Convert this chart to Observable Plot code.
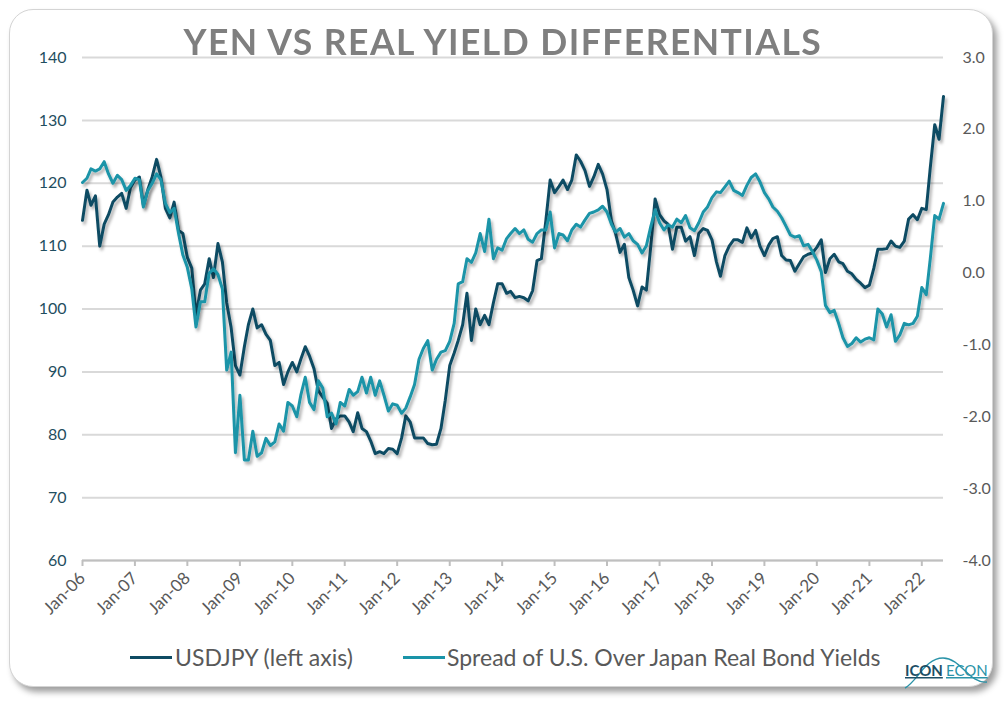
<!DOCTYPE html>
<html>
<head>
<meta charset="utf-8">
<script src="https://cdn.jsdelivr.net/npm/d3@7"></script>
<script src="https://cdn.jsdelivr.net/npm/@observablehq/plot@0.6"></script>
<style>
  html, body { margin: 0; padding: 0; background: #ffffff; }
  body { width: 1006px; height: 706px; position: relative; overflow: hidden; font-family: Lato, "Open Sans", sans-serif; }
  #card { position: absolute; left: 9px; top: 9px; width: 982px; height: 676px; border: 1px solid #d4d4d4; border-radius: 24px; box-shadow: 4px 5px 6px rgba(0,0,0,0.38); background: #fff; }
  #title { position: absolute; left: 0; top: 19px; width: 1006px; text-align: center; font-weight: 700; font-size: 37px; line-height: 44px; color: #7f7f7f; letter-spacing: 1.5px; white-space: nowrap; transform: scaleX(0.96); transform-origin: 500px 0; }
  #chart { position: absolute; left: 0; top: 0; }
  .lg-sw { position: absolute; height: 3px; width: 42px; top: 656px; }
  .lg-tx { position: absolute; top: 643px; font-size: 23px; line-height: 28px; color: #595959; white-space: nowrap; }
  #logo { position: absolute; left: 903px; top: 652px; width: 86px; height: 40px; }
</style>
</head>
<body>
<div id="card"></div>
<div id="chart"></div>
<div id="title">YEN VS REAL YIELD DIFFERENTIALS</div>
<div class="lg-sw" style="left:130px;background:#0e4b63"></div>
<div class="lg-tx" style="left:175px">USDJPY (left axis)</div>
<div class="lg-sw" style="left:403px;background:#1a94a8"></div>
<div class="lg-tx" style="left:447px">Spread of U.S. Over Japan Real Bond Yields</div>
<svg id="logo" viewBox="0 0 86 40">
  <path d="M2,36 C14,30 22,6 40,6 C58,6 66,32 84,30" fill="none" stroke="#2a93a8" stroke-width="1.4"/>
  <text x="2" y="24" font-family="Lato, sans-serif" font-size="15" font-weight="700" fill="#1d4f66" text-decoration="underline">ICON</text>
  <text x="43" y="24" font-family="Lato, sans-serif" font-size="15" fill="#2a93a8" text-decoration="underline">ECON</text>
</svg>
<script>
// Monthly values, Jan 2006 – Jun 2022
const usdjpy = [
  114.1, 118.9, 116.5, 118, 110, 113.5, 115, 117, 117.8, 118.4, 116, 119.3,
  120.5, 121, 116.5, 119, 121, 123.8, 121, 116, 114.5, 117, 112.5, 112,
  108.2, 106.5, 99, 103, 104, 108, 105, 110.4, 107.5, 101, 97, 91,
  89.5, 94, 97.5, 100, 97, 97.5, 96, 95, 91, 91.5, 88, 90,
  91.5, 90, 92, 94, 92.5, 90.5, 87, 86, 85, 81, 82.5, 83,
  83, 82, 80.5, 83.5, 81, 80.5, 79, 77, 77.3, 77, 77.8, 77.7,
  77, 79.5, 83, 82, 79.5, 79.5, 79.5, 78.6, 78.4, 78.5, 81, 85.5,
  91, 93, 95, 97.5, 102.5, 95, 100, 97.5, 99, 97.5, 101, 104,
  104, 102.5, 102.8, 101.8, 102, 101.8, 101.3, 102.9, 107.7, 108, 114, 120.5,
  118.5, 119.5, 120.5, 119, 120.5, 124.5, 123.5, 122, 119.5, 121, 123, 121.5,
  119, 114, 112, 109, 110.3, 105, 103, 100.5, 103.5, 103, 110, 117.5,
  115, 114, 113.5, 109.5, 113, 113, 110.8, 111.5, 108.5, 112, 112.8, 112.5,
  111, 107.5, 105.2, 108.5, 110, 111, 111, 110.6, 112.9, 111.3, 112.5, 110,
  108.5, 110.2, 111.2, 111.5, 108.5, 107.8, 107.7, 106, 107.2, 108.3, 108.7, 108.9,
  109.8, 111, 105.8, 108, 108.7, 107.5, 107.2, 106, 105.6, 104.7, 104.1, 103.4,
  103.8, 106.5, 109.5, 109.5, 109.6, 110.8, 110, 109.8, 110.8, 114.3, 115, 114.2,
  116, 115.8, 122.5, 129.3, 127, 133.8
];
const spread = [
  1.26, 1.32, 1.45, 1.42, 1.45, 1.55, 1.38, 1.25, 1.36, 1.30, 1.15, 1.22,
  1.32, 1.30, 0.92, 1.15, 1.25, 1.38, 1.30, 0.97, 0.84, 0.90, 0.55, 0.25,
  0.08, -0.22, -0.75, -0.40, -0.40, 0.00, 0.06, -0.02, -0.22, -1.35, -1.10, -2.50,
  -1.70, -2.60, -2.60, -2.20, -2.55, -2.50, -2.30, -2.40, -2.35, -2.10, -2.20, -1.80,
  -1.85, -2.00, -1.70, -1.45, -1.80, -1.90, -1.50, -1.60, -2.00, -1.95, -2.10, -1.80,
  -1.85, -1.62, -1.70, -1.65, -1.45, -1.67, -1.45, -1.70, -1.50, -1.70, -1.92, -1.82,
  -1.84, -1.95, -1.88, -1.72, -1.55, -1.20, -1.05, -0.94, -1.35, -1.20, -1.10, -1.08,
  -0.95, -0.70, -0.15, -0.12, 0.20, 0.15, 0.28, 0.55, 0.30, 0.75, 0.20, 0.35,
  0.32, 0.48, 0.55, 0.62, 0.55, 0.60, 0.47, 0.43, 0.55, 0.60, 0.60, 0.85,
  0.35, 0.55, 0.53, 0.45, 0.60, 0.68, 0.64, 0.74, 0.83, 0.85, 0.88, 0.93,
  0.85, 0.68, 0.57, 0.62, 0.50, 0.55, 0.45, 0.40, 0.28, 0.38, 0.65, 0.88,
  0.70, 0.60, 0.67, 0.64, 0.75, 0.70, 0.80, 0.63, 0.59, 0.70, 0.85, 0.92,
  1.05, 1.13, 1.12, 1.20, 1.28, 1.15, 1.12, 1.08, 1.22, 1.33, 1.38, 1.27,
  1.12, 1.03, 0.92, 0.86, 0.77, 0.65, 0.53, 0.50, 0.52, 0.38, 0.40, 0.30,
  0.18, 0.02, -0.45, -0.55, -0.52, -0.70, -0.90, -1.02, -0.98, -0.90, -0.96, -0.92,
  -0.90, -0.93, -0.50, -0.57, -0.75, -0.58, -0.95, -0.86, -0.70, -0.72, -0.70, -0.60,
  -0.20, -0.30, 0.20, 0.80, 0.75, 0.97
];
const leftTicks = [60, 70, 80, 90, 100, 110, 120, 130, 140];
const rightTicks = [-4, -3, -2, -1, 0, 1, 2, 3];
const xTickLabels = ["Jan-06","Jan-07","Jan-08","Jan-09","Jan-10","Jan-11","Jan-12","Jan-13","Jan-14","Jan-15","Jan-16","Jan-17","Jan-18","Jan-19","Jan-20","Jan-21","Jan-22"];

// dual-axis mapping: right axis [-4, 3] onto left axis [60, 140]
const toLeft = r => 140 + (r - 3) * 80 / 7;
const fromLeft = v => 3 + (v - 140) * 7 / 80;

const start = new Date(Date.UTC(2006, 0, 1));
const dates = d3.utcMonth.range(start, new Date(Date.UTC(2022, 6, 1)));
const usdRows = dates.map((d, i) => ({date: d, value: usdjpy[i]}));
const sprRows = dates.map((d, i) => ({date: d, value: toLeft(spread[i])}));
const parseTick = d3.utcParse("%b-%y");
const tickDates = xTickLabels.map(parseTick);
const labelByTime = new Map(tickDates.map((d, i) => [+d, xTickLabels[i]]));

const chart = Plot.plot({
  width: 1006,
  height: 640,
  marginLeft: 82,
  marginRight: 63,
  marginTop: 57,
  marginBottom: 80,
  style: {fontFamily: "Lato, 'Open Sans', sans-serif", background: "transparent", overflow: "visible"},
  x: {type: "utc", domain: [start, dates[dates.length - 1]]},
  y: {domain: [60, 140]},
  marks: [
    Plot.gridY(leftTicks, {stroke: "#d9d9d9", strokeOpacity: 1, strokeWidth: 2}),
    Plot.ruleY([60], {stroke: "#bfbfbf", strokeWidth: 2}),
    Plot.axisY(leftTicks, {anchor: "left", tickSize: 0, tickPadding: 16, fontSize: 16, fill: "#1f4e60", tickFormat: d => String(d), label: null}),
    Plot.axisY(rightTicks.map(toLeft), {anchor: "right", tickSize: 0, tickPadding: 19, fontSize: 16, fill: "#595959", tickFormat: d => fromLeft(d).toFixed(1), label: null}),
    Plot.axisX(tickDates, {anchor: "bottom", tickSize: 6, stroke: "#bfbfbf", strokeWidth: 2, tickRotate: -45, tickPadding: 9, fontSize: 17, fill: "#595959", tickFormat: d => labelByTime.get(+d), label: null}),
    Plot.lineY(usdRows, {x: "date", y: "value", stroke: "#0e4b63", strokeWidth: 3}),
    Plot.lineY(sprRows, {x: "date", y: "value", stroke: "#1a94a8", strokeWidth: 3})
  ]
});

const svg = d3.select(chart);
svg.insert("defs", ":first-child").html('<filter id="lineShadow" x="-5%" y="-10%" width="110%" height="130%"><feDropShadow dx="2" dy="3" stdDeviation="1.6" flood-color="#000" flood-opacity="0.32"/></filter>');
svg.selectAll('g[aria-label="line"]').attr("filter", "url(#lineShadow)");

document.getElementById("chart").appendChild(chart);
</script>
</body>
</html>
